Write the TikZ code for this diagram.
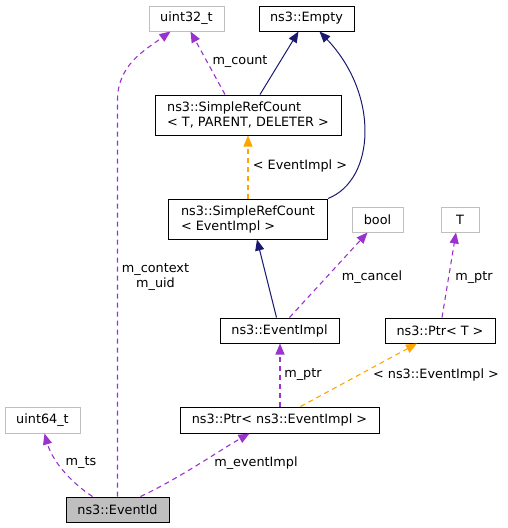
\documentclass[tikz,border=0pt]{standalone}
\usepackage{fontspec}
\setmainfont{DejaVu Sans}
\usepackage{xcolor}
\usepackage{tikz}
\usetikzlibrary{arrows.meta}

\definecolor{edgeblue}{HTML}{191970}
\definecolor{edgepurple}{HTML}{9A32CD}
\definecolor{edgeorange}{HTML}{FFA500}
\definecolor{boxgrey}{HTML}{BFBFBF}

\begin{document}
\begin{tikzpicture}[x=1pt,y=-1pt,
	font=\fontsize{12.8pt}{15pt}\selectfont,
	cls/.style={draw=black,fill=white,line width=1pt,inner sep=0pt,minimum height=25pt},
	ext/.style={draw=boxgrey,fill=white,line width=1pt,inner sep=0pt,minimum height=25pt},
	two/.style={cls,minimum height=40pt,align=left},
	inherit/.style={edgeblue,line width=1pt,-{Triangle[length=11pt,width=9pt]}},
	member/.style={edgepurple,line width=1.1pt,dash pattern=on 5pt off 4pt,-{Triangle[length=11pt,width=9pt]}},
	templ/.style={edgeorange,line width=1.1pt,dash pattern=on 5pt off 4pt,-{Triangle[length=11pt,width=9pt]}},
	lbl/.style={inner sep=0pt,align=center}]
		\useasboundingbox (0,0) rectangle (507,528);

		% boxes
		\node[ext,minimum width=75pt] (u32) at (186.5,18.5) {uint32\_t};
		\node[cls,minimum width=95pt] (empty) at (306.5,18.5) {ns3::Empty};
		\node[two,minimum width=186pt] (srct) at (248,115) {ns3::SimpleRefCount\\< T, PARENT, DELETER >};
		\node[two,minimum width=159pt] (srce) at (248,219) {ns3::SimpleRefCount\\< EventImpl >};
		\node[ext,minimum width=51pt] (bool) at (377.5,219.5) {bool};
		\node[ext,minimum width=38pt] (tt) at (460,219.5) {T};
		\node[cls,minimum width=119pt] (impl) at (279.5,330.5) {ns3::EventImpl};
		\node[cls,minimum width=110pt] (ptrt) at (440,330.5) {ns3::Ptr< T >};
		\node[ext,minimum width=75pt,minimum height=26pt] (u64) at (42.5,420) {uint64\_t};
		\node[cls,minimum width=199pt,minimum height=26pt] (ptre) at (279.5,420) {ns3::Ptr< ns3::EventImpl >};
		\node[cls,fill=boxgrey,minimum width=103pt] (eid) at (117.5,509.5) {ns3::EventId};

		% inheritance
		\draw[inherit] ([xshift=12pt]srct.north) -- ([xshift=-8pt]empty.south);
		\draw[inherit] (srce.north east) .. controls (375,180) and (380,95) .. ([xshift=13pt]empty.south);
		\draw[inherit] ([xshift=-3pt]impl.north) -- ([xshift=9pt]srce.south);

		% templates
		\draw[templ] (srce.north) -- (srct.south);
		\draw[templ] ([xshift=21pt]ptre.north) -- ([xshift=-23pt]ptrt.south);

		% members
		\draw[member] ([xshift=-23pt]srct.north) -- ([xshift=4pt]u32.south);
		\draw[member] ([xshift=10pt]impl.north) -- ([xshift=-10pt]bool.south);
		\draw[member] ([xshift=2pt]ptrt.north) -- ([xshift=-4pt]tt.south);
		\draw[member] ([xshift=0.5pt]ptre.north) -- ([xshift=0.5pt]impl.south);
		\draw[member] (eid.north) -- (117.5,100) .. controls (117.5,65) and (145,50) .. ([xshift=-16pt]u32.south);
		\draw[member] ([xshift=-25pt]eid.north) .. controls (70,482) and (52,460) .. ([xshift=2pt]u64.south);
		\draw[member] ([xshift=23pt]eid.north) .. controls (180,478) and (220,450) .. ([xshift=-30pt]ptre.south);

		% labels
		\node[lbl] (lcount) at (240,62) {m\_count};
		\node[lbl] (ltempl) at (300,166) {< EventImpl >};
		\node[lbl] (lcancel) at (372,277) {m\_cancel};
		\node[lbl] (lptrt) at (474,278) {m\_ptr};
		\node[lbl] (lptr) at (303,375) {m\_ptr};
		\node[lbl] (lptre) at (436,375) {< ns3::EventImpl >};
		\node[lbl] (lctx) at (155.5,277.5) {m\_context\\m\_uid};
		\node[lbl] (lts) at (81,463) {m\_ts};
		\node[lbl] (lev) at (256,463) {m\_eventImpl};
\end{tikzpicture}
\end{document}
